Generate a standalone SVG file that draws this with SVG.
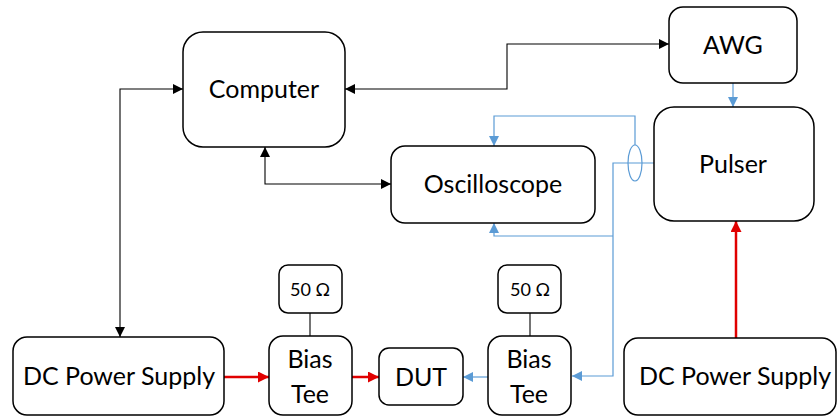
<svg xmlns="http://www.w3.org/2000/svg" width="837" height="416" viewBox="0 0 837 416">
  <style>
    .box { fill: #ffffff; stroke: #000000; stroke-width: 1.5; }
    .lbl { font-family: Lato, "Open Sans", "Liberation Sans", sans-serif; fill: #000000; text-anchor: middle; }
    .big { font-size: 25px; }
    .small { font-size: 18px; }
    .blk { fill: none; stroke: #000000; stroke-width: 1.1; }
    .blu { fill: none; stroke: #5B9BD5; stroke-width: 1.2; }
    .red { fill: none; stroke: #E00000; stroke-width: 2.5; }
  </style>
  <defs>
    <marker id="aBlk" viewBox="0 0 10 10" refX="10" refY="5" markerWidth="10" markerHeight="10" markerUnits="userSpaceOnUse" orient="auto-start-reverse">
      <path d="M0,0 L10,5 L0,10 Z" fill="#000000"/>
    </marker>
    <marker id="aBlu" viewBox="0 0 10 10" refX="10" refY="5" markerWidth="10" markerHeight="10" markerUnits="userSpaceOnUse" orient="auto-start-reverse">
      <path d="M0,0 L10,5 L0,10 Z" fill="#5B9BD5"/>
    </marker>
    <marker id="aRed" viewBox="0 0 10 10" refX="10" refY="5" markerWidth="11" markerHeight="11" markerUnits="userSpaceOnUse" orient="auto-start-reverse">
      <path d="M0,0 L10,5 L0,10 Z" fill="#E00000"/>
    </marker>
  </defs>

  <g id="connectors">
    <!-- control links -->
    <path class="blk" d="M345,89 H507 V44 H669" marker-start="url(#aBlk)" marker-end="url(#aBlk)"/>
    <path class="blk" d="M265,147 V184 H391" marker-start="url(#aBlk)" marker-end="url(#aBlk)"/>
    <path class="blk" d="M183,89 H120 V337" marker-start="url(#aBlk)" marker-end="url(#aBlk)"/>
    <!-- signal path -->
    <path class="blu" d="M733,83 V107" marker-end="url(#aBlu)"/>
    <path class="blu" d="M654,163 H613 V376 H572" marker-end="url(#aBlu)"/>
    <path class="blu" d="M613,236 H494 V223" marker-end="url(#aBlu)"/>
    <path class="blu" d="M635,145 V116 H494 V146" marker-end="url(#aBlu)"/>
    <ellipse class="blu" cx="635" cy="163" rx="7" ry="18"/>
    <path class="blu" d="M488,377 H463" marker-end="url(#aBlu)"/>
    <!-- bias lines -->
    <path class="red" d="M224,377 H269" marker-end="url(#aRed)"/>
    <path class="red" d="M352,377 H379" marker-end="url(#aRed)"/>
    <path class="red" d="M736,338 V221" marker-end="url(#aRed)"/>
    <!-- terminations -->
    <path class="blk" d="M310,313 V336"/>
    <path class="blk" d="M530,313 V336"/>
  </g>

  <g id="computer">
    <rect class="box" x="183" y="32" width="162" height="115" rx="20"/>
    <text class="lbl big" x="264" y="98">Computer</text>
  </g>
  <g id="awg">
    <rect class="box" x="669" y="7" width="128" height="76" rx="14"/>
    <text class="lbl big" x="733" y="54">AWG</text>
  </g>
  <g id="pulser">
    <rect class="box" x="654" y="107" width="160" height="114" rx="20"/>
    <text class="lbl big" x="733" y="173">Pulser</text>
  </g>
  <g id="oscilloscope">
    <rect class="box" x="391" y="146" width="204" height="77" rx="14"/>
    <text class="lbl big" x="493" y="193">Oscilloscope</text>
  </g>
  <g id="dc-supply-left">
    <rect class="box" x="13" y="337" width="211" height="78" rx="14"/>
    <text class="lbl big" x="119" y="385">DC Power Supply</text>
  </g>
  <g id="bias-tee-left">
    <rect class="box" x="269" y="336" width="83" height="79" rx="14"/>
    <text class="lbl big" x="310" y="368">Bias</text>
    <text class="lbl big" x="310" y="403">Tee</text>
  </g>
  <g id="load-left">
    <rect class="box" x="279" y="265" width="63" height="48" rx="9"/>
    <text class="lbl small" x="310" y="296">50 Ω</text>
  </g>
  <g id="dut">
    <rect class="box" x="379" y="348" width="84" height="57" rx="10"/>
    <text class="lbl big" x="421" y="386">DUT</text>
  </g>
  <g id="bias-tee-right">
    <rect class="box" x="488" y="336" width="83" height="79" rx="14"/>
    <text class="lbl big" x="529" y="368">Bias</text>
    <text class="lbl big" x="529" y="403">Tee</text>
  </g>
  <g id="load-right">
    <rect class="box" x="498" y="265" width="63" height="48" rx="9"/>
    <text class="lbl small" x="530" y="296">50 Ω</text>
  </g>
  <g id="dc-supply-right">
    <rect class="box" x="624" y="338" width="212" height="77" rx="14"/>
    <text class="lbl big" x="735" y="385">DC Power Supply</text>
  </g>
</svg>
